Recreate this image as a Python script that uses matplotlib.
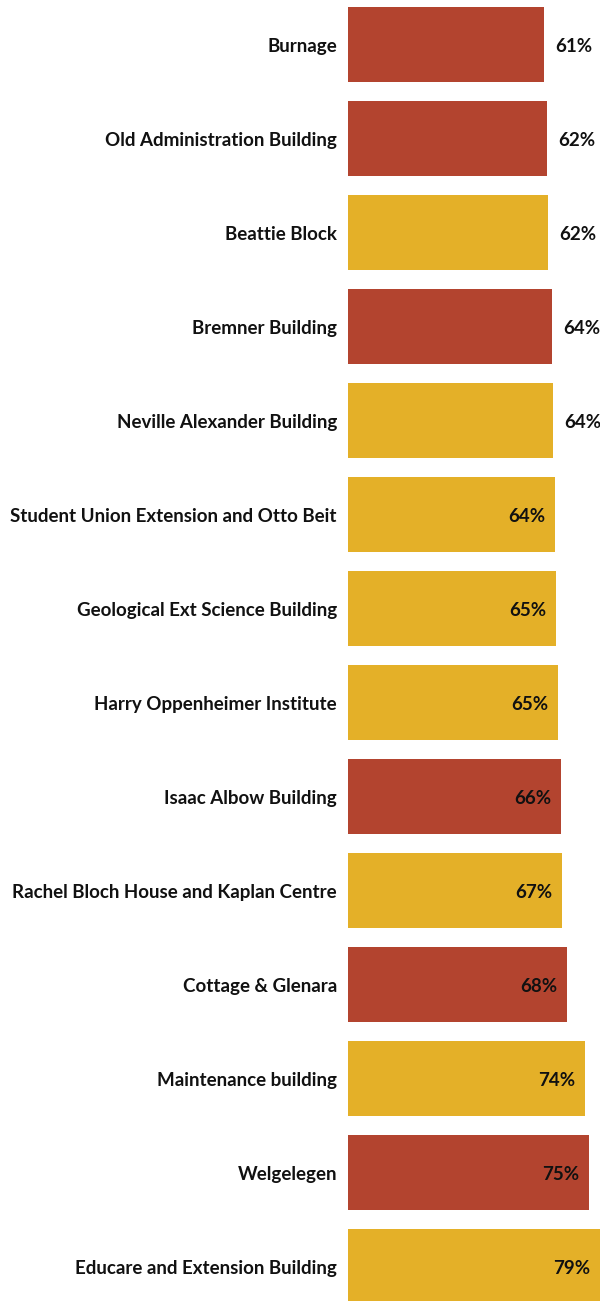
import matplotlib.pyplot as plt

# data (values in %, top to bottom)
buildings = [
    'Burnage', 'Old Administration Building', 'Beattie Block', 'Bremner Building',
    'Neville Alexander Building', 'Student Union Extension and Otto Beit',
    'Geological Ext Science Building', 'Harry Oppenheimer Institute',
    'Isaac Albow Building', 'Rachel Bloch House and Kaplan Centre',
    'Cottage & Glenara', 'Maintenance building', 'Welgelegen',
    'Educare and Extension Building',
]
values = [61.0, 61.9, 62.2, 63.6, 63.8, 64.4, 64.7, 65.3, 66.3, 66.6, 68.1, 73.7, 75.0, 79.0]
group = ['red', 'red', 'gold', 'red', 'gold', 'gold', 'gold', 'gold',
         'red', 'gold', 'red', 'gold', 'red', 'gold']

palette = {'red': '#b3442f', 'gold': '#e4b028'}

plt.rcParams['font.family'] = ['Lato', 'DejaVu Sans']

W, H = 600, 1301
fig = plt.figure(figsize=(W / 100, H / 100), dpi=100, facecolor='white')
ax = fig.add_axes([348 / W, 0, 252 / W, 1])

ypos = list(range(len(buildings)))
ax.barh(ypos, values, height=0.8, color=[palette[g] for g in group],
        edgecolor='none')

px_per_unit = 3.215
xmax = 252 / px_per_unit
ax.set_xlim(0, xmax)
ax.set_ylim((H - 44.5) / 94, -44.5 / 94)

fs = 13.5
txt = dict(fontsize=fs, fontweight='bold', color='#111111', va='center',
           textcoords='offset points', annotation_clip=False)

# category labels, right aligned just left of the bars
for y, name in zip(ypos, buildings):
    ax.annotate(name, (0, y), xytext=(-8, -1.5), ha='right', **txt)

# value labels: outside short bars, inside the longer ones
for y, v in zip(ypos, values):
    lab = f'{v:.0f}%'
    inside = v > 64.2
    ax.annotate(lab, (min(v, xmax), y), xytext=(-7 if inside else 8, -1.5),
                ha='right' if inside else 'left', **txt)

ax.set_xticks([])
ax.set_yticks([])
for s in ax.spines.values():
    s.set_visible(False)

fig.savefig('out.png', dpi=100)
